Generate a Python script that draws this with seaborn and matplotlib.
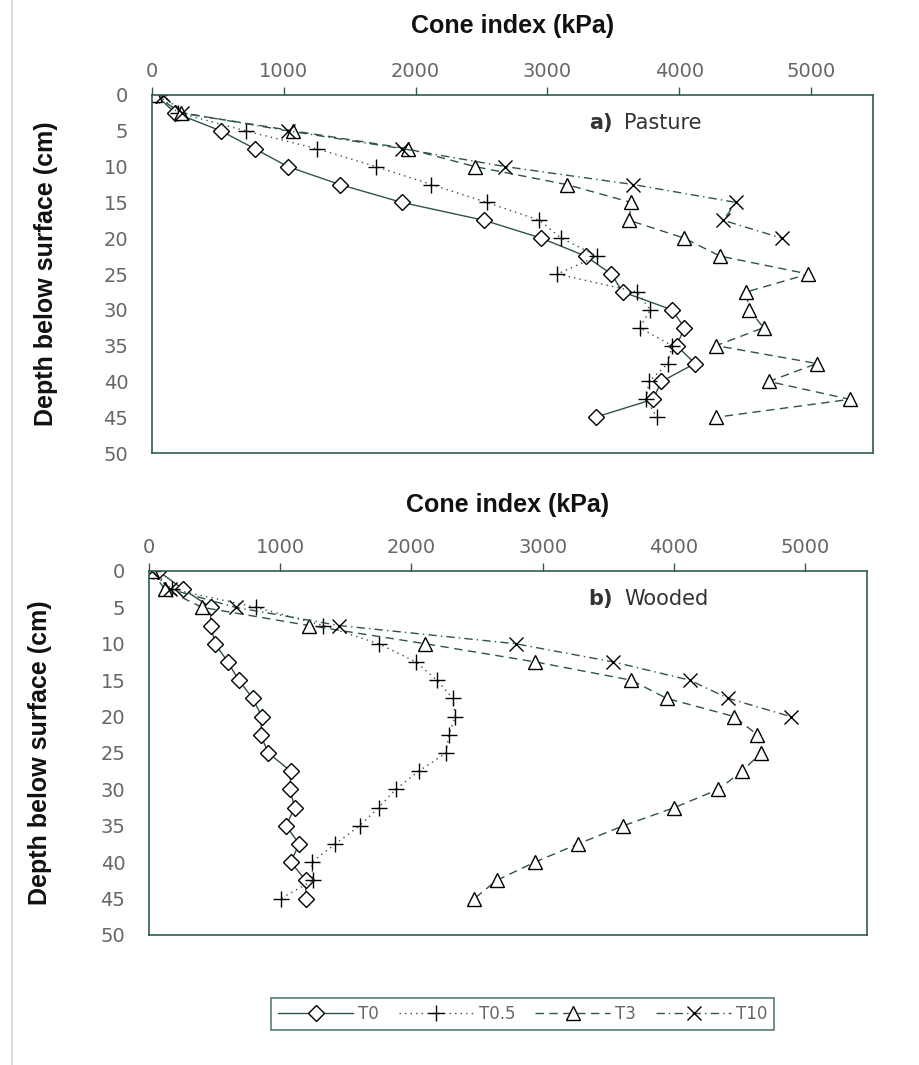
## cone index profiles: pasture vs wooded

import numpy as np
import pandas as pd
import matplotlib
matplotlib.use("Agg")
import matplotlib.pyplot as plt
import seaborn as sns
from matplotlib.lines import Line2D

## depths sampled every 2.5 cm
depth = [0, 2.5, 5, 7.5, 10, 12.5, 15, 17.5, 20, 22.5, 25, 27.5, 30,
         32.5, 35, 37.5, 40, 42.5, 45]

## a) Pasture
pasture_t0 = [30, 175, 520, 780, 1030, 1425, 1895, 2520, 2955, 3290, 3485,
              3570, 3945, 4040, 3980, 4120, 3865, 3800, 3365]
pasture_t05 = [50, 200, 710, 1250, 1700, 2120, 2540, 2940, 3105, 3380, 3075,
               3680, 3780, 3700, 3945, 3915, 3770, 3750, 3830]
pasture_t3 = [20, 220, 1070, 1940, 2450, 3145, 3635, 3620, 4040, 4310, 4980,
              4510, 4530, 4640, 4280, 5045, 4680, 5295, 4280]
pasture_t10 = [80, 230, 1030, 1900, 2680, 3650, 4430, 4335, 4780]

## b) Wooded
wooded_t0 = [70, 260, 470, 470, 505, 600, 685, 790, 860, 850, 910, 1080,
             1075, 1110, 1045, 1145, 1080, 1195, 1195]
wooded_t05 = [30, 175, 815, 1330, 1750, 2035, 2195, 2315, 2335, 2285, 2265,
              2055, 1880, 1750, 1605, 1420, 1240, 1250, 1005]
wooded_t3 = [20, 120, 405, 1220, 2105, 2945, 3675, 3945, 4460, 4635, 4665,
             4520, 4340, 4005, 3615, 3270, 2940, 2650, 2480]
wooded_t10 = [20, 160, 660, 1450, 2795, 3540, 4120, 4415, 4890]

treatments = ["T0", "T0.5", "T3", "T10"]
panels = {
    "a": ("Pasture", [pasture_t0, pasture_t05, pasture_t3, pasture_t10]),
    "b": ("Wooded", [wooded_t0, wooded_t05, wooded_t3, wooded_t10]),
}


def to_frame(series):
    rows = []
    for name, vals in zip(treatments, series):
        for d, v in zip(depth, vals):
            rows.append({"treatment": name, "depth": d, "cone": v})
    return pd.DataFrame(rows)


def style_markers(line, t):
    line.set_marker(markers[t])
    line.set_markerfacecolor("white")
    line.set_markeredgecolor("black")
    line.set_markeredgewidth(1.0)
    line.set_markersize(msizes[t])


sns.set_style("white")
plt.rcParams["font.family"] = ["DejaVu Sans"]

line_col = "#2e5446"
axis_col = "#2f5d4c"
tick_col = "#666666"
title_font = ["Liberation Sans", "DejaVu Sans"]
markers = {"T0": "D", "T0.5": "+", "T3": "^", "T10": "x"}
msizes = {"T0": 8, "T0.5": 11, "T3": 10, "T10": 10}
dashes = {"T0": "", "T0.5": (1, 3), "T3": (6, 4), "T10": (6, 3, 1, 3)}
palette = {t: line_col for t in treatments}

fig = plt.figure(figsize=(9.19, 10.65), dpi=100)
ax_a = fig.add_axes([0.1654, 0.5746, 0.7845, 0.3362])
ax_b = fig.add_axes([0.1621, 0.1221, 0.7810, 0.3418])

## per panel: x-label pad, ylabel x coord, tag x positions
layout = {"a": (21, -0.131, 0.639, 0.655), "b": (19, -0.135, 0.646, 0.662)}

for ax, key in [(ax_a, "a"), (ax_b, "b")]:
    title, series = panels[key]
    df = to_frame(series)
    sns.lineplot(data=df, x="cone", y="depth", hue="treatment",
                 style="treatment", hue_order=treatments,
                 style_order=treatments, dashes=dashes,
                 palette=palette, sort=False, estimator=None, orient="y",
                 linewidth=1.0, ax=ax, legend=(key == "b"))
    for line, t in zip(ax.lines, treatments):
        style_markers(line, t)

    ax.set_xlim(0, 5470)
    ax.set_ylim(50, 0)
    ax.set_xticks(range(0, 6000, 1000))
    ax.set_yticks(range(0, 55, 5))
    ax.xaxis.tick_top()
    ax.xaxis.set_label_position("top")
    ax.tick_params(axis="both", direction="out", length=6, width=1,
                   color=axis_col, labelcolor=tick_col, labelsize=14)
    ax.tick_params(axis="x", pad=4)
    ax.tick_params(axis="y", pad=11)
    for sp in ax.spines.values():
        sp.set_visible(True)
        sp.set_color(axis_col)
        sp.set_linewidth(1.2)
    xpad, ylx, tag_x, name_x = layout[key]
    ax.set_xlabel("Cone index (kPa)", fontsize=18, fontweight="bold",
                  family=title_font, color="#111111", labelpad=xpad)
    ax.set_ylabel("Depth below surface (cm)", fontsize=18,
                  fontweight="bold", family=title_font, color="#111111")
    ax.yaxis.set_label_coords(ylx, 0.5)
    ax.text(tag_x, 0.922, key + ")", transform=ax.transAxes, fontsize=15,
            fontweight="bold", ha="right", va="center", color="#333333")
    ax.text(name_x, 0.922, title, transform=ax.transAxes, fontsize=15,
            ha="left", va="center", color="#333333")

## move legend below both panels
handles, labels = ax_b.get_legend_handles_labels()
ax_b.get_legend().remove()
pairs = [(h, l) for h, l in zip(handles, labels) if l in treatments]
handles = [p[0] for p in pairs]
labels = [p[1] for p in pairs]
for h, t in zip(handles, labels):
    style_markers(h, t)
leg = fig.legend(handles, labels, loc="center", ncol=4,
                 bbox_to_anchor=(0.569, 0.048), frameon=True, fancybox=False,
                 fontsize=12, handlelength=4.5, columnspacing=1.2,
                 handletextpad=0.3, borderpad=0.4)
leg.get_frame().set_edgecolor(axis_col)
leg.get_frame().set_linewidth(1.2)
for txt in leg.get_texts():
    txt.set_color(tick_col)

## faint scan edge on the left
fig.add_artist(Line2D([0.013, 0.013], [0.0, 1.0], transform=fig.transFigure,
                      color="#d8d8d8", linewidth=1.2))

fig.savefig("out.png", dpi=100)
